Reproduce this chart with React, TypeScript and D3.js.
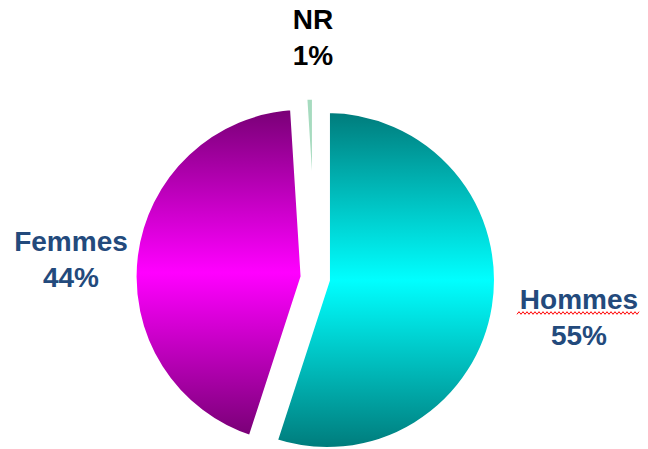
import React, { useEffect, useRef } from 'react';
import * as d3 from 'd3';

// data
const categories = ['Hommes', 'Femmes', 'NR'];
const values = [55, 44, 1];
const percentLabels = ['55%', '44%', '1%'];

const W = 648;
const H = 449;

const App = () => {
  const chartRef = useRef<SVGSVGElement | null>(null);

  useEffect(() => {
    const svg = d3.select(chartRef.current);
    svg.selectAll('*').remove();

    const cx = 315.3;
    const cy = 278.2;
    const radius = 170;
    const explode = 11.8;

    const defs = svg.append('defs');

    // vertical gradients: dark at the rim top/bottom, bright in the middle
    const grads = [
      { id: 'gHommes', dark: '#007a7a', light: '#00ffff' },
      { id: 'gFemmes', dark: '#770074', light: '#ff00ff' },
    ];
    grads.forEach((g) => {
      const lg = defs
        .append('linearGradient')
        .attr('id', g.id)
        .attr('x1', 0)
        .attr('y1', 0)
        .attr('x2', 0)
        .attr('y2', 1);
      lg.append('stop').attr('offset', '0%').attr('stop-color', g.dark);
      lg.append('stop').attr('offset', '50%').attr('stop-color', g.light);
      lg.append('stop').attr('offset', '100%').attr('stop-color', g.dark);
    });

    const fills = ['url(#gHommes)', 'url(#gFemmes)', '#a6dbbf'];

    const pie = d3
      .pie<number>()
      .sort(null)
      .value((d) => d);

    const arcs = pie(values);
    const arc = d3.arc<d3.PieArcDatum<number>>().innerRadius(0).outerRadius(radius);

    const g = svg.append('g').attr('transform', `translate(${cx},${cy})`);

    g.selectAll('path.slice')
      .data(arcs)
      .enter()
      .append('path')
      .attr('class', 'slice')
      .attr('d', arc)
      .attr('fill', (d, i) => fills[i])
      .attr('stroke', '#ffffff')
      .attr('stroke-width', 6)
      .attr('transform', (d) => {
        const mid = (d.startAngle + d.endAngle) / 2;
        return `translate(${Math.sin(mid) * explode},${-Math.cos(mid) * explode})`;
      });

    // labels
    const labelPos = [
      { x: 579, y: 309, color: '#234a7c' },
      { x: 71, y: 251, color: '#234a7c' },
      { x: 313, y: 29, color: '#000000' },
    ];
    const lineGap = 35.5;

    categories.forEach((c, i) => {
      const p = labelPos[i];
      const t = svg
        .append('text')
        .attr('text-anchor', 'middle')
        .attr('font-family', 'Arial, "Liberation Sans", sans-serif')
        .attr('font-weight', 'bold')
        .attr('font-size', 28)
        .attr('fill', p.color);
      t.append('tspan').attr('x', p.x).attr('y', p.y).text(c);
      t.append('tspan').attr('x', p.x).attr('y', p.y + lineGap).text(percentLabels[i]);
    });

    // red spell-check squiggle under "Hommes"
    const sq = d3.range(517, 641, 2).map((x, k) => [x, 313 + (k % 2 === 0 ? 1.3 : -1.3)] as [number, number]);
    svg
      .append('path')
      .attr('d', d3.line()(sq))
      .attr('fill', 'none')
      .attr('stroke', '#ff0000')
      .attr('stroke-width', 1);

    return () => {
      svg.selectAll('*').remove();
    };
  }, []);

  return (
    <svg
      ref={chartRef}
      width={W}
      height={H}
      style={{ position: 'absolute', left: 0, top: 0, background: '#ffffff', display: 'block' }}
    />
  );
};

export default App;
